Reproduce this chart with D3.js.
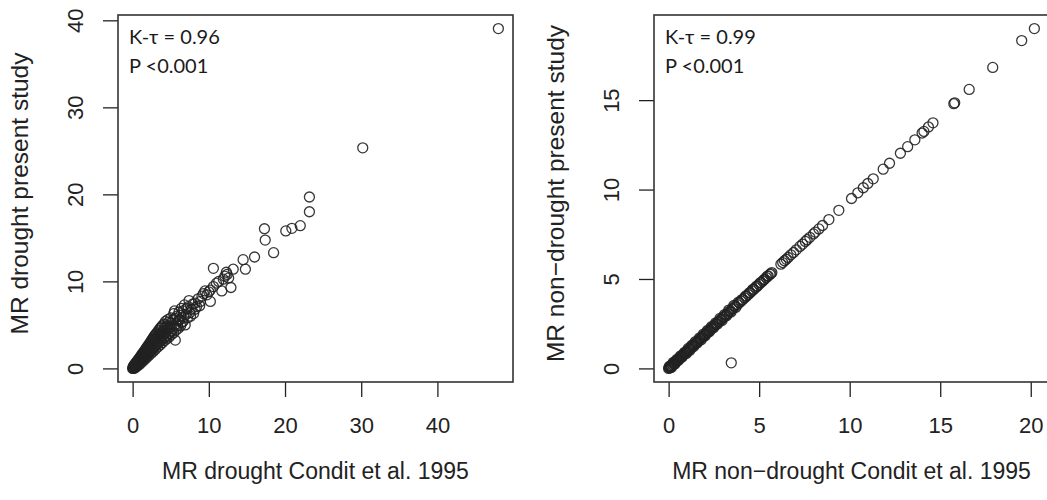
<!DOCTYPE html>
<html>
<head>
<meta charset="utf-8">
<script src="https://cdn.jsdelivr.net/npm/d3@7"></script>
<style>
  body { margin: 0; background: #fff; }
  svg { display: block; }
</style>
</head>
<body>
<div id="chart"></div>
<script>
// MR drought: [Condit et al. 1995, present study]
const droughtPairs = [
  [0.0,0.0],[0.05,0.1],[0.1,0.0],[0.15,0.15],[0.2,0.05],[0.25,0.3],[0.3,0.15],[0.35,0.35],[0.4,0.2],[0.45,0.45],
  [0.5,0.3],[0.55,0.55],[0.6,0.4],[0.65,0.65],[0.7,0.5],[0.75,0.75],[0.8,0.55],[0.85,0.9],[0.9,0.65],[0.95,1.0],
  [1.0,0.75],[1.05,1.1],[1.1,0.85],[1.15,1.2],[1.2,0.95],[1.25,1.35],[1.3,1.0],[1.35,1.45],[1.4,1.1],[1.45,1.55],
  [1.5,1.2],[1.55,1.7],[1.6,1.3],[1.7,1.8],[1.75,1.4],[1.8,1.95],[1.85,1.5],[1.9,2.1],[2.0,1.6],[2.05,2.25],
  [2.1,1.75],[2.2,2.4],[2.25,1.85],[2.3,2.6],[2.4,2.0],[2.45,2.7],[2.5,2.1],[2.6,2.9],[2.65,2.25],[2.7,3.0],
  [2.8,2.4],[2.85,3.2],[2.9,2.5],[3.0,3.3],[3.05,2.65],[3.1,3.5],[3.2,2.8],[3.25,3.6],[3.3,2.9],[3.4,3.8],
  [3.45,3.05],[3.5,3.4],[3.6,3.95],[3.65,3.15],[3.7,3.6],[3.8,4.1],[3.85,3.3],[3.9,3.8],[4.0,4.3],[4.1,3.5],
  [4.2,4.0],[4.25,4.7],[4.3,3.6],[4.4,4.2],[4.5,4.9],[4.55,3.8],[4.6,4.5],[4.7,5.3],[4.8,4.0],[4.9,4.7],
  [5.0,5.2],[5.1,4.3],[5.2,5.0],[5.3,5.6],[5.4,6.3],[5.45,4.6],[5.6,3.25],[5.6,5.75],[5.7,5.1],[5.8,6.0],
  [5.9,4.9],[6.0,5.5],[6.1,6.5],[6.2,5.6],[6.3,6.1],[6.5,5.3],[6.6,6.6],[6.7,5.9],[6.9,5.0],[7.0,6.2],
  [7.1,6.9],[7.3,7.1],[7.5,6.4],[7.7,6.8],[7.9,7.4],[8.0,6.3],[8.2,7.5],[8.4,7.1],[8.6,8.0],[8.9,7.7],
  [9.1,8.3],[9.3,8.6],[9.5,8.9],[9.75,8.45],[10.0,8.8],[10.2,9.0],[10.2,7.7],[10.6,9.4],[10.6,11.5],[11.0,9.8],
  [11.3,10.0],[11.7,8.9],[11.9,10.25],[12.1,10.6],[12.3,11.05],[12.4,10.8],[12.6,10.4],[12.9,9.3],[13.2,11.4],[14.5,12.5],
  [14.8,11.4],[16.0,12.8],[17.3,16.05],[17.4,14.75],[18.5,13.3],[20.1,15.8],[20.9,16.1],[22.0,16.4],[23.2,19.7],[23.2,18.0],
  [30.2,25.35],[48.0,39.05],
  [0.1,0.25],[0.2,0.35],[0.3,0.5],[0.4,0.6],[0.5,0.7],[0.6,0.85],[0.7,0.95],[0.8,1.05],[0.9,1.2],[1.0,1.3],
  [1.1,1.4],[1.2,1.6],[1.3,1.65],[1.4,1.8],[1.5,1.95],[1.6,2.0],[1.7,2.2],[1.8,2.3],[1.9,2.45],[2.0,2.55],
  [2.1,2.7],[2.2,2.8],[2.3,2.95],[2.4,3.1],[2.5,3.25],[2.6,3.35],[2.7,3.5],[2.8,3.65],[2.9,3.75],[3.0,3.9],
  [3.15,4.05],[3.3,4.2],[3.45,4.4],[3.6,4.6],[3.75,4.75],[3.9,4.9],[4.1,5.1],[4.3,5.4],[0.3,0.05],[0.6,0.25],
  [0.9,0.45],[1.2,0.7],[1.5,0.95],[1.8,1.2],[2.1,1.45],[2.4,1.7],[2.7,1.95],[3.0,2.2],[3.3,2.45],[3.6,2.7],
  [3.9,2.95],[4.2,3.2],[4.5,3.4],[4.8,3.6],[5.1,3.9],[5.4,4.1],[5.7,4.4],[6.0,4.6],[6.3,4.9],[6.6,5.4],
  [7.2,5.8],[7.6,6.0],[8.2,6.8],[8.8,7.2],[6.4,6.9],[6.8,7.3],[7.4,7.8],[5.0,5.8],[5.5,6.6],[4.6,5.6]
];

// MR non-drought: [Condit et al. 1995, present study]
const nonDroughtPairs = [
  [0.0,0.0],[0.02,0.05],[0.05,0.03],[0.08,0.1],[0.1,0.07],[0.13,0.14],[0.16,0.13],[0.2,0.2],[0.23,0.19],[0.26,0.26],
  [0.3,0.27],[0.33,0.33],[0.36,0.32],[0.4,0.39],[0.44,0.4],[0.48,0.46],[0.52,0.48],[0.56,0.54],[0.6,0.55],[0.64,0.61],
  [0.68,0.63],[0.72,0.69],[0.76,0.7],[0.8,0.77],[0.85,0.79],[0.9,0.86],[0.95,0.88],[1.0,0.95],[1.05,0.98],[1.1,1.05],
  [1.15,1.07],[1.2,1.14],[1.25,1.16],[1.3,1.24],[1.35,1.26],[1.4,1.33],[1.45,1.35],[1.5,1.43],[1.56,1.45],[1.62,1.54],
  [1.68,1.57],[1.74,1.66],[1.8,1.68],[1.86,1.77],[1.92,1.79],[1.98,1.88],[2.04,1.91],[2.1,2.0],[2.16,2.02],[2.22,2.11],
  [2.28,2.14],[2.34,2.23],[2.4,2.24],[2.46,2.34],[2.52,2.36],[2.58,2.46],[2.65,2.48],[2.72,2.59],[2.8,2.62],[2.88,2.74],
  [2.95,2.77],[3.02,2.87],[3.1,2.9],[3.18,3.02],[3.26,3.05],[3.34,3.18],[3.42,3.2],[3.5,3.33],[3.58,3.36],[3.66,3.48],
  [3.8,3.57],[3.9,3.67],[4.0,3.76],[4.1,3.85],[4.2,3.95],[4.3,4.04],[4.4,4.13],[4.5,4.23],[4.6,4.33],[4.7,4.41],
  [4.8,4.52],[4.9,4.6],[5.0,4.7],[5.1,4.8],[5.2,4.88],[5.3,4.98],[5.4,5.08],[5.5,5.17],[5.6,5.26],[5.7,5.36],
  [6.2,5.83],[6.3,5.92],[6.4,6.02],[6.5,6.1],[6.6,6.2],[6.75,6.35],[6.9,6.48],[7.05,6.63],[7.25,6.82],[7.4,6.95],
  [7.55,7.1],[7.65,7.2],[7.8,7.33],[8.0,7.52],[8.1,7.62],[8.3,7.8],[8.5,7.99],[8.85,8.32],[9.4,8.84],[10.1,9.5],
  [10.45,9.82],[10.75,10.1],[11.0,10.34],[11.3,10.6],[11.85,11.14],[12.2,11.47],[12.8,12.03],[13.2,12.4],[13.6,12.78],[14.0,13.16],
  [14.1,13.25],[14.35,13.5],[14.6,13.73],[15.75,14.8],[15.8,14.85],[16.6,15.6],[17.9,16.83],[19.5,18.33],[20.2,19.0],[3.46,0.31],
  [0.05,0.12],[0.15,0.05],[0.25,0.33],[0.35,0.24],[0.45,0.5],[0.55,0.45],[0.65,0.7],[0.75,0.64],[0.88,0.9],[0.98,0.84],
  [1.08,1.12],[1.18,1.02],[1.28,1.3],[1.38,1.22],[1.48,1.5],[1.58,1.42],[1.7,1.7],[1.8,1.6],[1.92,1.92],[2.02,1.82],
  [2.14,2.12],[2.25,2.05],[2.36,2.33],[2.48,2.27],[2.6,2.55],[2.7,2.48],[2.84,2.8],[2.95,2.68],[3.08,3.0],[3.2,2.95],
  [3.32,3.26],[3.45,3.15],[3.6,3.52],[3.72,3.42],[3.85,3.7],[4.05,3.85],[4.25,4.05],[4.45,4.22],[4.65,4.42],[4.85,4.6],
  [5.05,4.78],[5.25,4.95],[5.45,5.16],[5.65,5.3]
];

const droughtXTicks = [0, 10, 20, 30, 40];
const droughtYTicks = [0, 10, 20, 30, 40];
const nonDroughtXTicks = [0, 5, 10, 15, 20];
const nonDroughtYTicks = [0, 5, 10, 15];

const panels = [
  {
    pairs: droughtPairs, xTicks: droughtXTicks, yTicks: droughtYTicks,
    xTitle: "MR drought Condit et al. 1995", yTitle: "MR drought present study",
    tau: "K-τ = 0.96", p: "P <0.001", left: 118
  },
  {
    pairs: nonDroughtPairs, xTicks: nonDroughtXTicks, yTicks: nonDroughtYTicks,
    xTitle: "MR non\u2212drought Condit et al. 1995", yTitle: "MR non\u2212drought present study",
    tau: "K-τ = 0.99", p: "P <0.001", left: 654
  }
];

const W = 1047, H = 500;
const plotW = 395, plotH = 367, marginTop = 15;
const axisFont = "'Liberation Sans', Arial, sans-serif";
const ink = "#222";

const svg = d3.select("#chart").append("svg")
  .attr("width", W)
  .attr("height", H);

// R style limits: data range padded by 4% each side
function rLimits(vals) {
  const [lo, hi] = d3.extent(vals);
  const pad = (hi - lo) * 0.04;
  return [lo - pad, hi + pad];
}

panels.forEach(p => {
  const g = svg.append("g").attr("transform", `translate(${p.left},${marginTop})`);

  const x = d3.scaleLinear().domain(rLimits(p.pairs.map(d => d[0]))).range([0, plotW]);
  const y = d3.scaleLinear().domain(rLimits(p.pairs.map(d => d[1]))).range([plotH, 0]);

  // x axis
  const xa = g.append("g")
    .attr("transform", `translate(0,${plotH})`)
    .call(d3.axisBottom(x).tickValues(p.xTicks).tickSize(15).tickPadding(20).tickFormat(d3.format("d")));
  xa.select(".domain").remove();
  xa.selectAll(".tick line").attr("stroke", ink).attr("stroke-width", 1.3);
  xa.selectAll("text")
    .attr("fill", ink)
    .style("font-family", axisFont)
    .style("font-size", "22px");

  // y axis, labels parallel to axis
  const ya = g.append("g")
    .call(d3.axisLeft(y).tickValues(p.yTicks).tickSize(15).tickFormat(d3.format("d")));
  ya.select(".domain").remove();
  ya.selectAll(".tick line").attr("stroke", ink).attr("stroke-width", 1.3);
  ya.selectAll("text")
    .attr("x", null)
    .attr("dy", null)
    .attr("transform", "translate(-35,0) rotate(-90)")
    .attr("text-anchor", "middle")
    .attr("fill", ink)
    .style("font-family", axisFont)
    .style("font-size", "22px");

  // points
  g.append("g")
    .selectAll("circle")
    .data(p.pairs)
    .join("circle")
      .attr("cx", d => x(d[0]))
      .attr("cy", d => y(d[1]))
      .attr("r", 5)
      .attr("fill", "none")
      .attr("stroke", ink)
      .attr("stroke-width", 1.3)
      .attr("stroke-opacity", 0.9);

  // box
  g.append("rect")
    .attr("width", plotW)
    .attr("height", plotH)
    .attr("fill", "none")
    .attr("stroke", "#333")
    .attr("stroke-width", 1.6);

  // annotation
  g.append("text")
    .text(p.tau)
    .attr("x", 11)
    .attr("y", 29)
    .attr("fill", "#1a1a1a")
    .style("font-family", "Lato, 'Open Sans', sans-serif")
    .style("font-size", "20px");
  g.append("text")
    .text(p.p)
    .attr("x", 11)
    .attr("y", 58)
    .attr("fill", "#1a1a1a")
    .style("font-family", "Lato, 'Open Sans', sans-serif")
    .style("font-size", "20px");

  // axis titles
  g.append("text")
    .text(p.xTitle)
    .attr("x", plotW / 2)
    .attr("y", 479 - marginTop)
    .attr("text-anchor", "middle")
    .attr("fill", ink)
    .style("font-family", axisFont)
    .style("font-size", "23px");
  g.append("text")
    .text(p.yTitle)
    .attr("transform", `translate(${28 - 118},${plotH / 2 - 5}) rotate(-90)`)
    .attr("text-anchor", "middle")
    .attr("fill", ink)
    .style("font-family", axisFont)
    .style("font-size", "24.5px");
});
</script>
</body>
</html>
